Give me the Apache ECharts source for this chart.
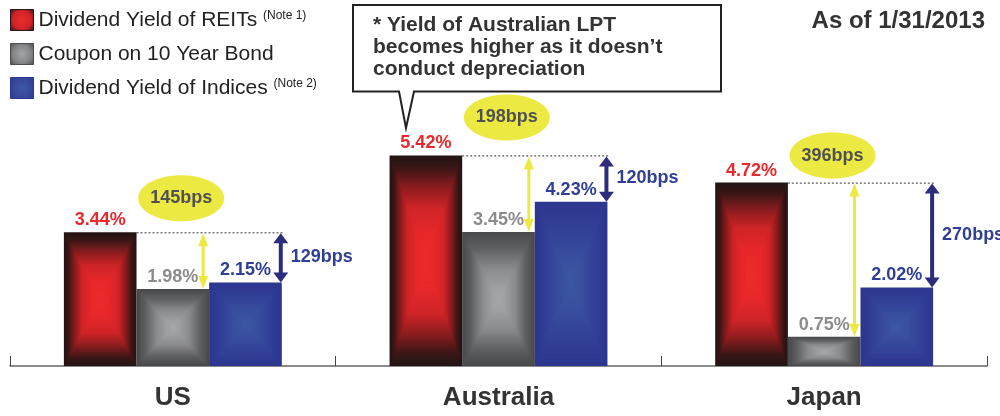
<!DOCTYPE html>
<html>
<head>
<meta charset="utf-8">
<script src="https://cdn.jsdelivr.net/npm/echarts@6/dist/echarts.min.js"></script>
<style>
  html, body { margin: 0; padding: 0; background: #ffffff; }
  #chart { width: 1000px; height: 416px; }
</style>
</head>
<body>
<div id="chart"></div>
<script>
// ---- data ----
const categories = ['US', 'Australia', 'Japan'];
const reitYield = [3.44, 5.42, 4.72];
const bondCoupon = [1.98, 3.45, 0.75];
const indexYield = [2.15, 4.23, 2.02];
const reitVsBondBps = [145, 198, 396];
const reitVsIndexBps = [129, 120, 270];
const seriesNames = ['Dividend Yield of REITs', 'Coupon on 10 Year Bond', 'Dividend Yield of Indices'];
const seriesNotes = ['(Note 1)', '', '(Note 2)'];

// ---- styling ----
const FONT = '"Liberation Sans", Arial, Helvetica, sans-serif';
const BAR_FRAC = 0.223;
const ellipseLift = [34, 38, 27];
const profiles = [
  [[0, '#221515'], [0.12, '#3a1616'], [0.3, '#8a1c1e'], [0.5, '#cf2427'], [0.75, '#e8282b'], [1, '#ec2b2c']],
  [[0, '#47484a'], [0.25, '#5f6062'], [0.55, '#8a8b8d'], [0.85, '#a0a1a3'], [1, '#a6a7a9']],
  [[0, '#2d368e'], [0.3, '#323f97'], [0.7, '#394f9f'], [1, '#3d58a4']]
];
const labelColors = ['#e8292c', '#8c8c8c', '#2f3f96'];

function hex2rgb(h) { return [parseInt(h.substr(1,2),16), parseInt(h.substr(3,2),16), parseInt(h.substr(5,2),16)]; }
function sample(profile, t) {
  for (let k = 1; k < profile.length; k++) {
    if (t <= profile[k][0]) {
      const a = profile[k-1], b = profile[k];
      const f = (t - a[0]) / (b[0] - a[0]);
      const ca = hex2rgb(a[1]), cb = hex2rgb(b[1]);
      return 'rgb(' + ca.map((c, j) => Math.round(c + (cb[j] - c) * f)).join(',') + ')';
    }
  }
  return profile[profile.length - 1][1];
}

function makeBarSeries(slot, values) {
  const profile = profiles[slot];
  return {
    type: 'custom',
    name: seriesNames[slot],
    data: values.map((v, i) => [i, v]),
    itemStyle: { color: profile[profile.length - 1][1] },
    clip: false,
    z: 2,
    renderItem: function (params, api) {
      const i = api.value(0), v = api.value(1);
      const base = api.coord([i, 0]);
      const top = api.coord([i, v]);
      const catW = api.size([1, 0])[0];
      const bw = catW * BAR_FRAC;
      const x = base[0] + (slot - 1.5) * bw;
      const y = top[1];
      const h = base[1] - top[1];
      const hw = bw / 2, hh = h / 2;
      const N = 64;
      const children = [];
      for (let k = 0; k < N; k++) {
        const t = k / N;
        children.push({
          type: 'rect',
          shape: { x: x + t * hw, y: y + t * hh, width: bw - 2 * t * hw, height: h - 2 * t * hh },
          style: { fill: sample(profile, t + 0.5 / N) },
          silent: true
        });
      }
      children.push({
        type: 'text',
        style: {
          text: v.toFixed(2) + '%', x: x + bw / 2, y: y - 3,
          align: 'center', verticalAlign: 'bottom',
          fontFamily: FONT, fontWeight: 'bold', fontSize: 18, fill: labelColors[slot]
        }
      });
      return { type: 'group', children: children };
    }
  };
}

function arrow(x, y1, y2, color, lw, headW, headH) {
  return [
    { type: 'line', shape: { x1: x, y1: y1 + headH - 1, x2: x, y2: y2 - headH + 1 }, style: { stroke: color, lineWidth: lw } },
    { type: 'polygon', shape: { points: [[x, y1], [x - headW / 2, y1 + headH], [x + headW / 2, y1 + headH]] }, style: { fill: color } },
    { type: 'polygon', shape: { points: [[x, y2], [x - headW / 2, y2 - headH], [x + headW / 2, y2 - headH]] }, style: { fill: color } }
  ];
}

const annotSeries = {
  type: 'custom',
  name: 'annotations',
  data: categories.map((c, i) => [i, reitYield[i], bondCoupon[i], indexYield[i], reitVsBondBps[i], reitVsIndexBps[i]]),
  clip: false,
  silent: true,
  z: 5,
  renderItem: function (params, api) {
    const i = api.value(0);
    const cx = api.coord([i, 0])[0];
    const catW = api.size([1, 0])[0];
    const bw = catW * BAR_FRAC;
    const yR = api.coord([i, api.value(1)])[1];
    const yB = api.coord([i, api.value(2)])[1];
    const yI = api.coord([i, api.value(3)])[1];
    const yellowX = cx + 0.5 * bw - 6;
    const blueX = cx + 1.5 * bw - 1;
    const ex = cx + 0.5 * bw - 28, ey = yR - ellipseLift[i];
    const children = [];
    children.push({ type: 'line', shape: { x1: cx - 0.5 * bw, y1: yR + 0.5, x2: blueX + 3, y2: yR + 0.5 },
      style: { stroke: '#333333', lineWidth: 1, lineDash: [2, 2] } });
    arrow(yellowX, yR + 1, yB, '#ede943', 3, 10, 13).forEach(e => children.push(e));
    arrow(blueX, yR + 1, yI, '#2b2d7c', 4, 15, 10).forEach(e => children.push(e));
    children.push({ type: 'ellipse', shape: { cx: ex, cy: ey, rx: 43, ry: 23 }, style: { fill: '#ede943' } });
    children.push({ type: 'text', style: { text: api.value(4) + 'bps', x: ex, y: ey, align: 'center', verticalAlign: 'middle',
      fontFamily: FONT, fontWeight: 'bold', fontSize: 18, fill: '#505050' } });
    children.push({ type: 'text', style: { text: api.value(5) + 'bps', x: blueX + 10, y: (yR + yI) / 2, align: 'left', verticalAlign: 'middle',
      fontFamily: FONT, fontWeight: 'bold', fontSize: 18, fill: '#2f3f96' } });
    return { type: 'group', children: children };
  }
};

function legendGrad(slot) {
  const p = profiles[slot];
  return {
    type: 'radial', x: 0.5, y: 0.5, r: 0.7,
    colorStops: [{ offset: 0, color: p[p.length - 1][1] }, { offset: 0.6, color: sample(p, 0.5) }, { offset: 1, color: sample(p, 0.1) }]
  };
}

const chart = echarts.init(document.getElementById('chart'), null, { renderer: 'canvas' });
chart.setOption({
  animation: false,
  backgroundColor: '#ffffff',
  grid: { left: 10, right: 13, top: 94, bottom: 50 },
  legend: {
    orient: 'vertical', left: 10, top: 9, padding: 0,
    itemWidth: 23, itemHeight: 21, itemGap: 12,
    icon: 'rect',
    data: seriesNames.map((n, k) => ({ name: n, itemStyle: { color: legendGrad(k), borderColor: sample(profiles[k], 0.05), borderWidth: 1 } })),
    formatter: function (name) {
      const k = seriesNames.indexOf(name);
      return seriesNotes[k] ? name + ' {sup|' + seriesNotes[k] + '}' : name;
    },
    textStyle: {
      fontFamily: FONT, fontSize: 21, color: '#222222', lineHeight: 21,
      rich: { sup: { fontFamily: FONT, fontSize: 12, color: '#222222', verticalAlign: 'top', lineHeight: 21, padding: [0, 0, 6, 0] } }
    },
    selectedMode: false
  },
  xAxis: {
    type: 'category',
    data: categories,
    boundaryGap: true,
    axisLine: { lineStyle: { color: '#666666', width: 1.5 } },
    axisTick: { show: true, inside: true, length: 10, alignWithLabel: false, lineStyle: { color: '#444444', width: 1 } },
    axisLabel: { fontFamily: FONT, fontWeight: 'bold', fontSize: 26, color: '#333333', margin: 19 }
  },
  yAxis: { type: 'value', min: 0, max: 7, show: false, splitLine: { show: false } },
  graphic: [
    {
      type: 'polygon', z: 10,
      shape: { points: [[353, 5], [721, 5], [721, 91.5], [414, 91.5], [406, 128], [399, 91.5], [353, 91.5]] },
      style: { fill: '#ffffff', stroke: '#222222', lineWidth: 2 }
    },
    {
      type: 'text', z: 11, left: 373, top: 14,
      style: { text: '* Yield of Australian LPT\nbecomes higher as it doesn\u2019t\nconduct depreciation',
        fontFamily: FONT, fontWeight: 'bold', fontSize: 21, lineHeight: 22, fill: '#333333' }
    },
    {
      type: 'text', z: 11, right: 15, top: 9,
      style: { text: 'As of 1/31/2013', fontFamily: FONT, fontWeight: 'bold', fontSize: 24, fill: '#333333' }
    }
  ],
  series: [
    makeBarSeries(0, reitYield),
    makeBarSeries(1, bondCoupon),
    makeBarSeries(2, indexYield),
    annotSeries
  ]
});
</script>
</body>
</html>
